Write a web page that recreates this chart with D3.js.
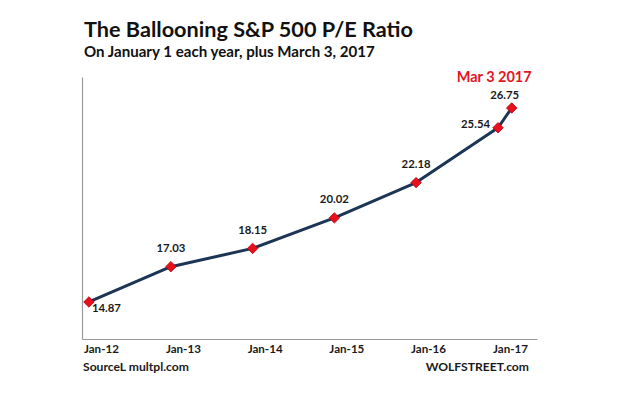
<!DOCTYPE html>
<html><head><meta charset="utf-8">
<script src="https://cdn.jsdelivr.net/npm/d3@7"></script>
<style>
html,body{margin:0;padding:0;background:#fff;}
svg{display:block;font-family:Lato,"Open Sans",sans-serif;}
</style></head>
<body>
<svg id="c" width="640" height="399"></svg>
<script>
// ---- data ----
const dates = ["2012-01-01","2013-01-01","2014-01-01","2015-01-01","2016-01-01","2017-01-01","2017-03-03"];
const peValues = [14.87, 17.03, 18.15, 20.02, 22.18, 25.54, 26.75];
const tickDates = ["2012-01-01","2013-01-01","2014-01-01","2015-01-01","2016-01-01","2017-01-01"];
const tickLabels = ["Jan-12","Jan-13","Jan-14","Jan-15","Jan-16","Jan-17"];
const titleText = "The Ballooning S&P 500 P/E Ratio";
const subtitleText = "On January 1 each year, plus March 3, 2017";
const calloutText = "Mar 3 2017";
const sourceText = "SourceL multpl.com";
const creditText = "WOLFSTREET.com";

const parse = d3.timeParse("%Y-%m-%d");
const svg = d3.select("#c");

const x = d3.scaleTime()
  .domain([parse("2011-12-01"), parse("2017-06-24")])
  .range([82, 537]);
const y = d3.scaleLinear().domain([12.6, 28.65]).range([339, 77]);

// returns font size making `text` `target` px wide
function fitSize(text, target, base){
  const tmp = svg.append("text").attr("font-size",base).attr("font-weight",700).text(text);
  const w = tmp.node().getComputedTextLength();
  tmp.remove();
  return +(base * target / w).toFixed(2);
}
const titleFs = fitSize(titleText, 329, 22);
const subFs = fitSize(subtitleText, 291, 14);
const valFs = fitSize("26.75", 29, 12);
const tickFs = fitSize("Jan-12", 35, 12);
const calloutFs = fitSize(calloutText, 75, 15);
const footFs = fitSize(sourceText, 106, 12);

// title
svg.append("text").attr("x",84).attr("y",37)
  .attr("font-size",titleFs).attr("font-weight",700).attr("fill","#111").text(titleText);
svg.append("text").attr("x",84).attr("y",57)
  .attr("font-size",subFs).attr("font-weight",700).attr("fill","#111").text(subtitleText);

// axes
const yAxis = svg.append("g").attr("transform","translate(82,0)")
  .call(d3.axisLeft(y).tickValues([]).tickSizeOuter(0));
yAxis.select(".domain").attr("stroke","#9a9a9a").attr("stroke-width",1.2);

const xAxis = svg.append("g").attr("transform","translate(0,339)")
  .call(d3.axisBottom(x).tickValues(tickDates.map(parse))
    .tickFormat((d,i)=>tickLabels[i]).tickSize(0).tickSizeOuter(0));
xAxis.select(".domain").attr("stroke","#9a9a9a").attr("stroke-width",1.2);
xAxis.selectAll(".tick text")
  .attr("y",14).attr("dy",0).attr("dx",12)
  .attr("font-family","Lato,'Open Sans',sans-serif")
  .attr("font-size",tickFs).attr("font-weight",700).attr("fill","#1a1a1a");

const pts = dates.map((d,i)=>({date:parse(d), v:peValues[i]}));

// line
svg.append("path").datum(pts)
  .attr("fill","none").attr("stroke","#1c3557").attr("stroke-width",3)
  .attr("stroke-linejoin","round")
  .attr("d", d3.line().x(d=>x(d.date)).y(d=>y(d.v)));

// markers
svg.selectAll("path.mk").data(pts).enter().append("path")
  .attr("class","mk")
  .attr("d", d3.symbol().type(d3.symbolDiamond2).size(70))
  .attr("transform", d=>`translate(${x(d.date)},${y(d.v)})`)
  .attr("fill","#e8101a").attr("stroke","#b00010").attr("stroke-width",0.8);

// value labels
const n = pts.length;
function lx(d,i){
  if(i===0) return x(d.date)+3;
  if(i===n-2) return x(d.date)-8;
  if(i===n-1) return x(d.date)-7;
  return x(d.date);
}
function ly(d,i){
  if(i===0) return y(d.v)+10;
  if(i===n-2) return y(d.v);
  if(i===n-1) return y(d.v)-9;
  return y(d.v)-14.5;
}
svg.selectAll("text.vl").data(pts).enter().append("text")
  .attr("class","vl")
  .attr("font-size",valFs).attr("font-weight",700).attr("fill","#1a1a1a")
  .attr("text-anchor",(d,i)=> i===0 ? "start" : (i===n-2 ? "end" : "middle"))
  .attr("x",lx).attr("y",ly)
  .text(d=>d.v.toFixed(2));

// callout
const last = pts[n-1];
svg.append("text").attr("x", x(last.date)-17.5).attr("y", 82)
  .attr("text-anchor","middle").attr("font-size",calloutFs).attr("font-weight",700)
  .attr("fill","#e3141e").text(calloutText);

// footer
svg.append("text").attr("x",83).attr("y",371)
  .attr("font-size",footFs).attr("font-weight",700).attr("fill","#1a1a1a").text(sourceText);
svg.append("text").attr("x",529).attr("y",371).attr("text-anchor","end")
  .attr("font-size",footFs).attr("font-weight",700).attr("fill","#1a1a1a").text(creditText);
</script>
</body></html>
